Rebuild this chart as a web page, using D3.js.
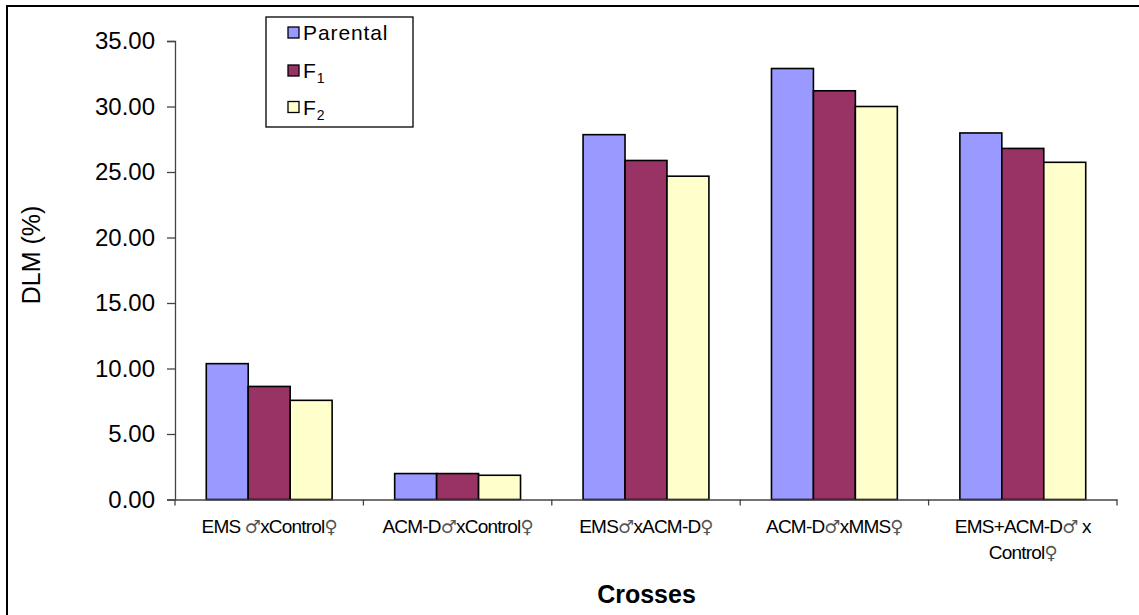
<!DOCTYPE html>
<html><head><meta charset="utf-8">
<script src="https://cdn.jsdelivr.net/npm/d3@7"></script>
<style>body{margin:0;background:#fff}svg{display:block}</style>
</head><body>
<svg id="c" width="1139" height="615"></svg>
<script>
const categories = [
  ["EMS ♂xControl♀"],
  ["ACM-D♂xControl♀"],
  ["EMS♂xACM-D♀"],
  ["ACM-D♂xMMS♀"],
  ["EMS+ACM-D♂ x", "Control♀"]
];
const seriesNames = ["Parental", "F1", "F2"];
const parental = [10.37, 1.98, 27.85, 32.9, 27.98];
const f1 = [8.63, 1.98, 25.88, 31.2, 26.8];
const f2 = [7.57, 1.85, 24.68, 30.0, 25.74];
const yTicks = [0, 5, 10, 15, 20, 25, 30, 35];
const colors = ["#9999FF", "#993366", "#FFFFCC"];

const svg = d3.select("#c");
const values = [parental, f1, f2];
const catIdx = d3.range(categories.length);
const FONT = "Liberation Sans, Arial, sans-serif";

svg.append("rect").attr("x", 7).attr("y", 6).attr("width", 1150).attr("height", 640)
  .attr("fill", "#fff").attr("stroke", "#000").attr("stroke-width", 2);

const y = d3.scaleLinear().domain([0, 35]).range([499.5, 41]);
const x0 = d3.scaleBand().domain(catIdx).range([175, 1117]).paddingInner(0).paddingOuter(0);
const bw = x0.bandwidth();
const x1 = d3.scaleBand().domain(d3.range(3)).range([bw * 0.166, bw * 0.834]);

// bars
const g = svg.append("g");
catIdx.forEach(ci => {
  d3.range(3).forEach(si => {
    const v = values[si][ci];
    g.append("rect")
      .attr("x", x0(ci) + x1(si))
      .attr("y", y(v))
      .attr("width", x1.bandwidth())
      .attr("height", y(0) - y(v))
      .attr("fill", colors[si])
      .attr("stroke", "#000").attr("stroke-width", 1.6);
  });
});

// y axis
const yAxis = svg.append("g").attr("transform", "translate(175,0)")
  .call(d3.axisLeft(y).tickValues(yTicks).tickFormat(d3.format(".2f")).tickSize(8).tickPadding(12));
yAxis.select(".domain").attr("stroke", "#444").attr("stroke-width", 1.3);
yAxis.selectAll(".tick line").attr("stroke", "#444").attr("stroke-width", 1.3);
yAxis.selectAll(".tick text").attr("font-family", FONT)
  .attr("font-size", 24).attr("fill", "#000");

// x axis line and ticks
const xAxis = svg.append("g").attr("transform", `translate(0,${y(0)})`)
  .call(d3.axisBottom(x0).tickSize(0).tickFormat(""));
xAxis.select(".domain").attr("stroke", "#444").attr("stroke-width", 1.3);
const bounds = catIdx.map(i => x0(i)).concat([x0(catIdx.length - 1) + bw]);
svg.append("g").selectAll("line").data(bounds).join("line")
  .attr("x1", d => d).attr("x2", d => d)
  .attr("y1", y(0)).attr("y2", y(0) + 6)
  .attr("stroke", "#444").attr("stroke-width", 1.3);

// category labels
catIdx.forEach(ci => {
  categories[ci].forEach((ln, li) => {
    const t = svg.append("text")
      .attr("x", x0(ci) + bw / 2)
      .attr("y", 533 + li * 26)
      .attr("text-anchor", "middle")
      .attr("font-family", FONT)
      .attr("font-size", 19).attr("letter-spacing", -0.8).attr("fill", "#000");
    ln.split(/([♂♀])/).forEach(p => {
      if (!p) return;
      const ts = t.append("tspan").text(p);
      if (p === "♂" || p === "♀") ts.attr("fill", "#555").attr("font-family", "DejaVu Sans").attr("font-size", 18);
    });
  });
});

// y label
svg.append("text")
  .attr("transform", "translate(40,255) rotate(-90)")
  .attr("text-anchor", "middle")
  .attr("font-family", FONT)
  .attr("font-size", 25).attr("fill", "#000").text("DLM (%)");

// x title
svg.append("text")
  .attr("x", 646.5).attr("y", 603)
  .attr("text-anchor", "middle")
  .attr("font-family", FONT)
  .attr("font-weight", "bold").attr("font-size", 25).attr("fill", "#000").text("Crosses");

// legend
const lg = svg.append("g");
lg.append("rect").attr("x", 266).attr("y", 17).attr("width", 147).attr("height", 110)
  .attr("fill", "#fff").attr("stroke", "#000").attr("stroke-width", 1.3);
const rowY = [32.5, 70.5, 107];
seriesNames.forEach((s, i) => {
  lg.append("rect").attr("x", 288).attr("y", rowY[i] - 5.5).attr("width", 11).attr("height", 11)
    .attr("fill", colors[i]).attr("stroke", "#000").attr("stroke-width", 1.3);
  const t = lg.append("text").attr("x", 303).attr("y", rowY[i] + 7.5)
    .attr("font-family", FONT)
    .attr("font-size", 21).attr("letter-spacing", 0.9).attr("fill", "#000");
  if (s === "Parental") {
    t.text(s);
  } else {
    t.append("tspan").text(s[0]);
    t.append("tspan").text(s.slice(1)).attr("font-size", 14).attr("dy", 5);
  }
});
</script>
</body></html>
